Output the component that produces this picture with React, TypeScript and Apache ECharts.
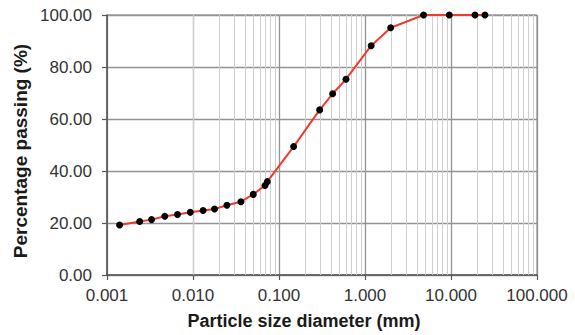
import React, { useEffect, useRef } from "react";
import * as echarts from "echarts";

const diameters = [
  0.0014, 0.0024, 0.0033, 0.0047, 0.0066, 0.0093, 0.0131, 0.0178, 0.0248, 0.0361,
  0.0502, 0.0687, 0.0731, 0.148, 0.297, 0.42, 0.601, 1.18, 1.99, 4.8, 9.55, 19.0, 24.8,
];
const passing = [
  19.2, 20.6, 21.3, 22.6, 23.3, 24.1, 24.8, 25.4, 26.8, 28.2,
  31.0, 34.4, 35.9, 49.4, 63.5, 69.7, 75.3, 88.2, 95.1, 100, 100, 100, 100,
];
const decades = [0.001, 0.01, 0.1, 1, 10];
const minorMultipliers = [2, 3, 4, 5, 6, 7, 8, 9];
const xTitle = "Particle size diameter (mm)";
const yTitle = "Percentage passing (%)";

export default function App() {
  const ref = useRef<HTMLDivElement>(null);
  useEffect(() => {
    if (!ref.current) return;
    const chart = echarts.init(ref.current, undefined, { renderer: "svg" });
    const minorLines: any[] = [];
    decades.forEach((d) =>
      minorMultipliers.forEach((m) => minorLines.push({ xAxis: +(d * m).toPrecision(3) }))
    );
    const font = "'Liberation Sans', Arial, sans-serif";
    chart.setOption({
      animation: false,
      grid: {
        left: 107,
        right: 38,
        top: 15,
        bottom: 60,
        show: true,
        borderColor: "#7a7a7a",
        borderWidth: 1,
      },
      xAxis: {
        type: "log",
        logBase: 10,
        min: 0.001,
        max: 100,
        axisLine: { show: true, lineStyle: { color: "#555", width: 1.5 } },
        axisTick: { show: true, length: 5, lineStyle: { color: "#555", width: 1.2 } },
        axisLabel: {
          fontFamily: font,
          fontSize: 17,
          color: "#333",
          margin: 12,
          formatter: (v: number) => {
            const exp = Math.round(Math.log10(v));
            return v.toFixed(3 > -exp ? 3 : -exp);
          },
        },
        splitLine: { show: true, lineStyle: { color: "#939393", width: 1.3 } },
      },
      yAxis: {
        type: "value",
        min: 0,
        max: 100,
        interval: 20,
        axisLine: { show: true, lineStyle: { color: "#555", width: 1.5 } },
        axisTick: { show: true, length: 5, lineStyle: { color: "#555", width: 1.2 } },
        axisLabel: {
          fontFamily: font,
          fontSize: 17,
          color: "#333",
          margin: 15,
          formatter: (v: number) => v.toFixed(2),
        },
        splitLine: { show: true, lineStyle: { color: "#939393", width: 1.3 } },
      },
      graphic: [
        {
          type: "text",
          x: 304,
          y: 321,
          style: {
            text: xTitle,
            fontFamily: font,
            fontSize: 18,
            fontWeight: "bold",
            fill: "#1a1a1a",
            align: "center",
            verticalAlign: "middle",
          },
        },
        {
          type: "text",
          x: 20,
          y: 151,
          rotation: Math.PI / 2,
          style: {
            text: yTitle,
            fontFamily: font,
            fontSize: 19,
            fontWeight: "bold",
            fill: "#1a1a1a",
            align: "center",
            verticalAlign: "middle",
          },
        },
      ],
      series: [
        {
          type: "line",
          data: [],
          silent: true,
          markLine: {
            silent: true,
            symbol: "none",
            label: { show: false },
            lineStyle: { color: "#cfcfcf", width: 1, type: "solid" },
            data: minorLines,
          },
          z: 1,
        },
        {
          type: "line",
          data: diameters.map((d, i) => [d, passing[i]]),
          symbol: "circle",
          symbolSize: 7,
          itemStyle: { color: "#000" },
          lineStyle: { color: "#ef3b2d", width: 2 },
          z: 5,
        },
      ],
    });
    return () => chart.dispose();
  }, []);
  return (
    <div
      ref={ref}
      style={{ position: "absolute", left: 0, top: 0, width: 575, height: 335 }}
    />
  );
}
